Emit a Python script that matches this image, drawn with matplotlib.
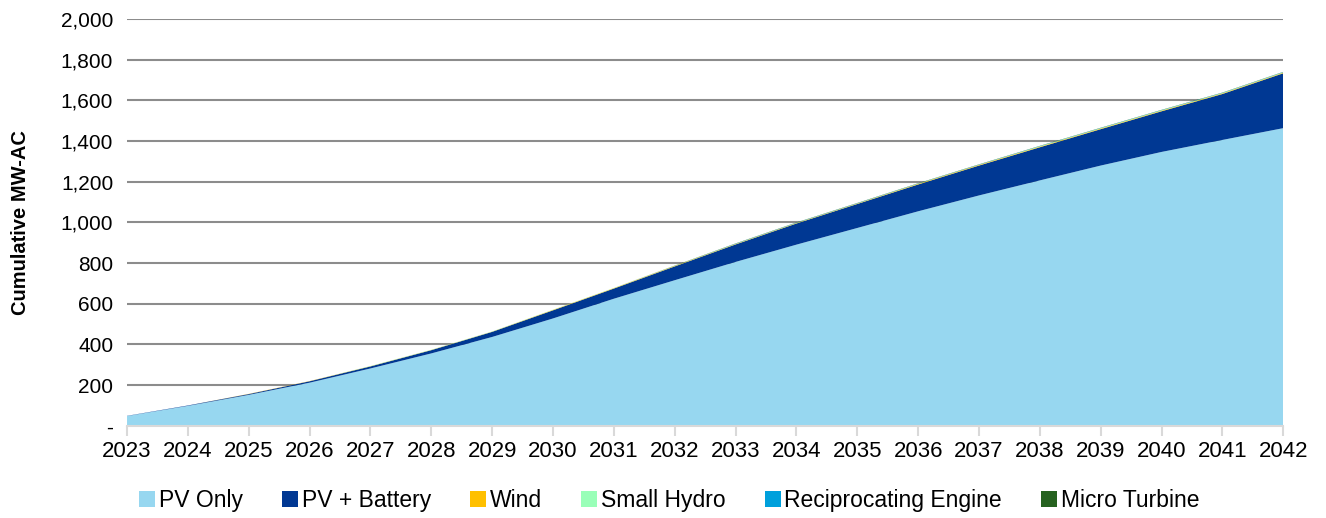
import numpy as np
import matplotlib
matplotlib.use("Agg")
from matplotlib import pyplot as plt
from matplotlib.ticker import FuncFormatter

# dados (MW-AC acumulado)
anos = list(range(2023, 2043))
pv_only = [48, 98, 152, 212, 282, 356, 437, 528, 625, 716, 806, 891, 973, 1055, 1133, 1207, 1280, 1347, 1406, 1464]
pv_bateria = [1, 2, 4, 7, 10, 16, 25, 40, 50, 68, 86, 104, 118, 132, 147, 163, 179, 200, 226, 270]
eolica = [0, 0, 1, 1, 1, 1, 1, 2, 2, 2, 2, 2, 2, 3, 3, 3, 3, 3, 3, 3]
pch = [0, 0, 0, 0, 1, 1, 1, 1, 1, 1, 1, 1, 1, 1, 1, 2, 2, 2, 2, 2]
motor = [0, 0, 0, 0, 0, 0, 0, 0, 0, 0, 1, 1, 1, 1, 1, 1, 1, 1, 1, 1]
microturbina = [0, 0, 0, 0, 0, 0, 0, 0, 0, 1, 1, 1, 1, 1, 1, 1, 1, 1, 1, 1]

nomes = ["PV Only", "PV + Battery", "Wind", "Small Hydro", "Reciprocating Engine", "Micro Turbine"]
cores = ["#97D7F0", "#003893", "#FFC000", "#99FFB8", "#00A0DC", "#26621F"]

plt.rcParams["font.family"] = ["Liberation Sans", "DejaVu Sans"]

fig = plt.figure(figsize=(13.26, 5.18), dpi=100)
ax = fig.add_axes([0.0958, 0.178, 0.872, 0.785])

ax.stackplot(anos, pv_only, pv_bateria, eolica, pch, motor, microturbina,
             colors=cores, labels=nomes, linewidth=0)

ax.set_xlim(2023, 2042)
ax.set_ylim(0, 2000)
ax.set_yticks(range(0, 2001, 200))
ax.yaxis.set_major_formatter(FuncFormatter(lambda v, p: "-" if v == 0 else f"{int(v):,}"))
ax.set_xticks(anos)
ax.grid(axis="y", color="#8c8c8c", linewidth=1.5)
ax.set_axisbelow(True)

for lado in ["top", "right", "left"]:
    ax.spines[lado].set_visible(False)
ax.spines["bottom"].set_color("#d9d9d9")
ax.spines["bottom"].set_linewidth(1.5)
ax.tick_params(axis="y", length=0, labelsize=15, pad=10)
ax.tick_params(axis="x", length=7, color="#d9d9d9", width=1.5, labelsize=16, pad=4)
ax.set_ylabel("Cumulative MW-AC", fontsize=14.5, fontweight="bold", labelpad=22)

ax.legend(loc="upper center", bbox_to_anchor=(0.469, -0.105), ncol=6, frameon=False,
          fontsize=16.5, handlelength=0.7, handleheight=0.7, handletextpad=0.15,
          columnspacing=1.72)

fig.savefig("out.png", dpi=100)
